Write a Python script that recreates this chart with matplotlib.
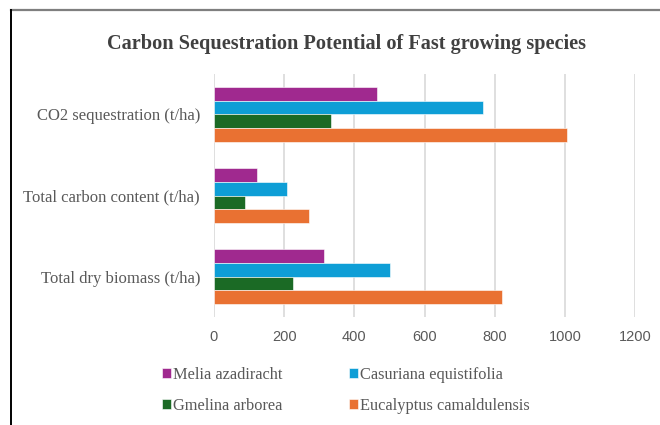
import matplotlib.pyplot as plt
import numpy as np
from matplotlib.lines import Line2D

categories = ['Total dry biomass (t/ha)', 'Total carbon content (t/ha)', 'CO2 sequestration (t/ha)']
species = ['Melia azadiracht', 'Casuriana equistifolia', 'Gmelina arborea', 'Eucalyptus camaldulensis']
melia = [314, 123, 464]
casuriana = [502, 209, 765]
gmelina = [225, 87, 334]
eucalyptus = [820, 272, 1005]
xticks = [0, 200, 400, 600, 800, 1000, 1200]

colors = ['#A0298F', '#0E9ED6', '#1B6A25', '#E97132']
values = [melia, casuriana, gmelina, eucalyptus]

fig = plt.figure(figsize=(6.6, 4.25), dpi=100)
ax = fig.add_axes([0.3242, 0.254, 0.6384, 0.572])

y = np.arange(len(categories))
h = 0.1716
offsets = [1.5 * h, 0.5 * h, -0.5 * h, -1.5 * h]
bars = []
for vals, off, col, name in zip(values, offsets, colors, species):
    b = ax.barh(y + off, vals, height=h, color=col, label=name, zorder=3,
                edgecolor='white', linewidth=0.4)
    bars.append(b)

ax.set_xlim(0, 1200)
ax.set_ylim(-0.5, 2.5)
ax.set_xticks(xticks)
ax.set_yticks(y)
ax.set_yticklabels(categories, family='Liberation Serif', fontsize=12, color='#595959')
ax.tick_params(axis='x', labelsize=10.5, colors='#595959', length=0, pad=9)
ax.tick_params(axis='y', length=0, pad=10)
for lab in ax.get_xticklabels():
    lab.set_family('Liberation Sans')
ax.grid(axis='x', color='#D9D9D9', linewidth=1.2, zorder=0)
for s in ax.spines.values():
    s.set_visible(False)

fig.text(0.525, 0.897, 'Carbon Sequestration Potential of Fast growing species',
         ha='center', va='center', family='Liberation Serif', fontweight='bold',
         fontsize=14.6, color='#404040')

# legend: two rows, column-wise fill order
order = [0, 2, 1, 3]
leg = fig.legend([bars[i] for i in order], [species[i] for i in order],
                 ncol=2, frameon=False, loc='center left', bbox_to_anchor=(0.245, 0.081),
                 borderpad=0, borderaxespad=0,
                 prop={'family': 'Liberation Serif', 'size': 11.8},
                 handlelength=0.55, handleheight=0.55, handletextpad=0.12,
                 columnspacing=4.1, labelspacing=0.9)
for t in leg.get_texts():
    t.set_color('#595959')

# outer frame (top and left only)
fig.add_artist(Line2D([0.0167, 1.0], [0.976, 0.976], color='#7F7F7F', linewidth=1.6))
fig.add_artist(Line2D([0.0167, 0.0167], [0.0, 0.976], color='black', linewidth=1.4))

fig.savefig('out.png', dpi=100)
